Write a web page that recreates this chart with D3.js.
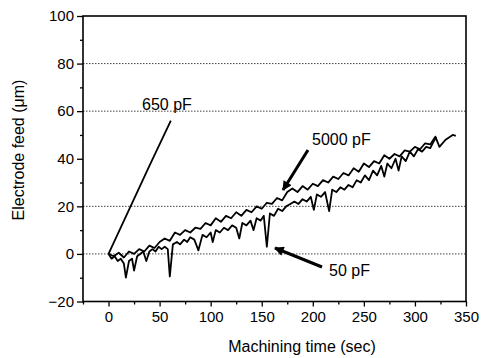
<!DOCTYPE html>
<html><head><meta charset="utf-8">
<script src="https://cdn.jsdelivr.net/npm/d3@7"></script>
<style>body{margin:0;background:#fff}svg{display:block;font-family:"Liberation Sans",Arial,sans-serif}</style>
</head><body><svg id="c" width="486" height="358"></svg>
<script>
const xTicks = [0,50,100,150,200,250,300,350];
const yTicks = [-20,0,20,40,60,80,100];
const gridLevels = [0,20,60,80];

const t650 = [0, 20, 40, 61];
const v650 = [0, 18.5, 37, 56];

const t5000 = [0,5,10,15,20,25,30,35,40,45,50,55,60,65,70,75,80,85,90,95,100,105,110,115,120,125,130,135,140,145,150,155,160,165,170,175,180,185,190,195,200,205,210,215,220,225,230,235,240,245,250,255,260,265,270,275,280,285,290,295,300,305,310,315,320,324,330,337,340];
const v5000 = [0,-1,0.5,-1.5,1,0,2,1,3.5,2.5,5,6.5,5.5,9,8,10,9,11,10.5,13,12,15,13.5,16,15,17.5,16,18.5,17.5,20,19,21.5,21,23.5,22.5,26,27.5,26,28.5,27,29.5,28.5,31,30,32.5,31.5,34,33,36,34.5,38,36.5,39,38,41.5,40,42,41,43.5,43,45,44,46.5,46,49.3,45,48,50,49.6];

const t50 = [0,3,6,9,12,15,17,20,23,25,28,31,34,37,40,43,46,49,52,55,58,60,63,67,70,74,77,80,84,88,92,96,100,102,105,109,113,117,121,125,128,131,135,139,142,145,149,152,155,158,162,166,170,174,178,182,186,190,194,198,201,204,208,212,216,219,223,227,231,235,239,243,247,251,255,259,263,267,270,273,277,281,284,287,291,295,299,303,307,311,315,318,321];
const v50 = [0,-2,-1,-3,-2,-4,-10,-3,-2,-7,-1,0,1,-3,1,2,1,3,2,3,2,-9.5,4,5,4,6,5,7,6,1.5,8,7,9,5,10,9,11,10,12,11,6.5,13,12,14,10,15,14,16,3,17,16,19,18,20,21,22,21,23,22,24,18.5,25,24,26,18,27,26,28,27,29,28,31,30,33,31,35,33,37,32.5,38,36,40,35,41,39,43,41,44,43,45,44.5,47,49];

const svg = d3.select("#c");
const x = d3.scaleLinear().domain([-25,350]).range([83,466]);
const y = d3.scaleLinear().domain([-20,100]).range([301.5,16]);
const FONT = "'Liberation Sans',Arial,sans-serif";

// gridlines
svg.append("g").selectAll("line").data(gridLevels).join("line")
  .attr("x1",x(-25)).attr("x2",x(350)).attr("y1",d=>y(d)).attr("y2",d=>y(d))
  .attr("stroke","#444").attr("stroke-width",1).attr("stroke-dasharray","1.5,1.5");

// axes
const xAxis = svg.append("g").attr("transform",`translate(0,${y(-20)})`)
  .call(d3.axisBottom(x).tickValues(xTicks).tickSize(5).tickPadding(5).tickFormat(d3.format("d")));
const xMinor = svg.append("g").attr("transform",`translate(0,${y(-20)})`)
  .call(d3.axisBottom(x).tickValues(d3.range(-25,351,25).filter(d=>d%50!==0)).tickSize(3).tickFormat(""));
const yAxis = svg.append("g").attr("transform",`translate(${x(-25)},0)`)
  .call(d3.axisLeft(y).tickValues(yTicks).tickSize(6).tickPadding(3));
const yMinor = svg.append("g").attr("transform",`translate(${x(-25)},0)`)
  .call(d3.axisLeft(y).tickValues(d3.range(-10,100,20)).tickSize(3).tickFormat(""));
[xAxis,xMinor,yAxis,yMinor].forEach(g=>{
  g.select(".domain").remove();
  g.selectAll("line").attr("stroke","#000").attr("stroke-width",1.3);
  g.selectAll("text").attr("font-size",15).attr("fill","#000").attr("font-family",FONT);
});

// frame
svg.append("rect").attr("x",x(-25)).attr("y",y(100)).attr("width",x(350)-x(-25)).attr("height",y(-20)-y(100))
  .attr("fill","none").attr("stroke","#000").attr("stroke-width",1.6);

// series
const line = d3.line().x(d=>x(d[0])).y(d=>y(d[1]));
const ser = [[t650,v650],[t5000,v5000],[t50,v50]];
ser.forEach(([tt,vv])=>{
  svg.append("path").datum(tt.map((t,i)=>[t,vv[i]])).attr("d",line)
    .attr("fill","none").attr("stroke","#000").attr("stroke-width",1.8).attr("stroke-linejoin","round");
});

// arrows
svg.append("defs").append("marker").attr("id","ah").attr("viewBox","0 0 10 10")
  .attr("refX",9).attr("refY",5).attr("markerWidth",4).attr("markerHeight",3.2)
  .attr("orient","auto").attr("markerUnits","strokeWidth")
  .append("path").attr("d","M0,0L10,5L0,10z").attr("fill","#000");
const arrows = [[[308,150],[283,190]],[[322,267],[275,248]]];
arrows.forEach(([a,b])=>{
  svg.append("line").attr("x1",a[0]).attr("y1",a[1]).attr("x2",b[0]).attr("y2",b[1])
    .attr("stroke","#000").attr("stroke-width",3).attr("marker-end","url(#ah)");
});

// labels
const labels = [["650 pF",142,110],["5000 pF",312,145],["50 pF",329,276]];
svg.append("g").selectAll("text").data(labels).join("text")
  .attr("x",d=>d[1]).attr("y",d=>d[2]).text(d=>d[0]).attr("font-size",16).attr("fill","#000").attr("font-family",FONT);
svg.append("text").attr("x",302).attr("y",352).attr("text-anchor","middle").attr("font-size",16).attr("font-family",FONT).text("Machining time (sec)");
svg.append("text").attr("transform","translate(24,150) rotate(-90)").attr("text-anchor","middle").attr("font-size",16).attr("font-family",FONT).text("Electrode feed (μm)");
</script></body></html>
